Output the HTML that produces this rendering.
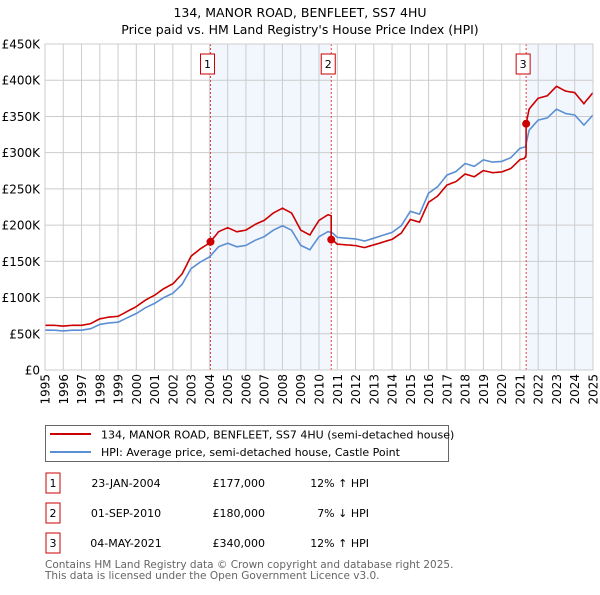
<!DOCTYPE html>
<html><head><meta charset="utf-8"><style>
body{margin:0;background:#fff;width:600px;height:590px;overflow:hidden;font-family:"Liberation Sans","DejaVu Sans",sans-serif}
svg text{font-family:"DejaVu Sans","Liberation Sans",sans-serif}
</style></head><body>
<svg id="chart" width="600" height="590" xmlns="http://www.w3.org/2000/svg">
<text x="300" y="17" text-anchor="middle" font-size="12.5" fill="#000">134, MANOR ROAD, BENFLEET, SS7 4HU</text>
<text x="300" y="34" text-anchor="middle" font-size="12.5" fill="#000">Price paid vs. HM Land Registry's House Price Index (HPI)</text>
<g id="plot"></g>
<g>
<rect x="45.5" y="425.5" width="403" height="36" fill="#fff" stroke="#666"/>
<line x1="50" y1="434" x2="91" y2="434" stroke="#cc0000" stroke-width="2"/>
<text x="101" y="438.5" font-size="11">134, MANOR ROAD, BENFLEET, SS7 4HU (semi-detached house)</text>
<line x1="50" y1="452" x2="91" y2="452" stroke="#5b8fd4" stroke-width="2"/>
<text x="101" y="456" font-size="11">HPI: Average price, semi-detached house, Castle Point</text>
</g>
<g id="table"></g>
<text x="45" y="568" font-size="10.5" fill="#666">Contains HM Land Registry data © Crown copyright and database right 2025.</text>
<text x="45" y="579" font-size="10.5" fill="#666">This data is licensed under the Open Government Licence v3.0.</text>
</svg>
<script>
const hpiYears=[1995,1995.5,1996,1996.5,1997,1997.5,1998,1998.5,1999,1999.5,2000,2000.5,2001,2001.5,2002,2002.5,2003,2003.5,2004,2004.5,2005,2005.5,2006,2006.5,2007,2007.5,2008,2008.5,2009,2009.5,2010,2010.5,2010.75,2011,2011.5,2012,2012.5,2013,2013.5,2014,2014.5,2015,2015.5,2016,2016.5,2017,2017.5,2018,2018.5,2019,2019.5,2020,2020.5,2021,2021.3,2021.5,2022,2022.5,2023,2023.5,2024,2024.5,2025];
const hpiValues=[55,55,54,55,55,57,63,65,66,72,78,86,92,100,106,118,140,149,156,170,175,170,172,179,184,193,199,193,172,166,184,191,189,183,182,181,178,182,186,190,199,219,215,244,253,269,274,285,281,290,287,288,293,306,308,331,345,348,360,354,352,338,352];
const saleYears=[2004.06,2010.67,2021.34];
const salePrices=[177,180,340];
const saleLabels=["1","2","3"];
const saleDates=["23-JAN-2004","01-SEP-2010","04-MAY-2021"];
const salePriceText=["£177,000","£180,000","£340,000"];
const saleDiffText=["12% ↑ HPI","7% ↓ HPI","12% ↑ HPI"];
const yTicks=[0,50,100,150,200,250,300,350,400,450];
const yTickLabels=["£0","£50K","£100K","£150K","£200K","£250K","£300K","£350K","£400K","£450K"];
const xTicks=[1995,1996,1997,1998,1999,2000,2001,2002,2003,2004,2005,2006,2007,2008,2009,2010,2011,2012,2013,2014,2015,2016,2017,2018,2019,2020,2021,2022,2023,2024,2025];

const X0=45,X1=593,Y0=370,Y1=44;
const xs=y=>X0+(y-1995)/30*(X1-X0);
const ys=v=>Y0-v/450*(Y0-Y1);
const NS="http://www.w3.org/2000/svg";
function mk(tag,attrs,parent){const e=document.createElementNS(NS,tag);for(const k in attrs)e.setAttribute(k,attrs[k]);parent.appendChild(e);return e;}
function hpiAt(t){for(let i=0;i<hpiYears.length-1;i++){if(t<=hpiYears[i+1]){const f=(t-hpiYears[i])/(hpiYears[i+1]-hpiYears[i]);return hpiValues[i]+f*(hpiValues[i+1]-hpiValues[i]);}}return hpiValues[hpiValues.length-1];}
const plot=document.getElementById('plot');
for(let i=0;i<saleYears.length;i++){
  if(i===1)continue;
  const end=i===0?saleYears[1]:2025;
  const r=mk('rect',{x:xs(saleYears[i]),y:Y1,width:xs(end)-xs(saleYears[i]),height:Y0-Y1,fill:'#f2f6fd'},plot);
  
  
}
yTicks.forEach((v,i)=>{
  const l=mk('line',{x1:X0,x2:X1,y1:ys(v),y2:ys(v),stroke:'#cccccc','stroke-width':1},plot);
  
  
  const t=mk('text',{x:40,y:ys(v)+4.5,'text-anchor':'end','font-size':12},plot);
  
  
  t.textContent=yTickLabels[i];
});
xTicks.forEach(yr=>{
  const l=mk('line',{x1:xs(yr),x2:xs(yr),y1:Y1,y2:Y0,stroke:'#cccccc','stroke-width':1},plot);
  
  
  const t=mk('text',{x:0,y:0,'text-anchor':'end','font-size':12,transform:`translate(${xs(yr)+4.5},374) rotate(-90)`},plot);
  
  
  t.textContent=yr;
});
saleYears.forEach((s,i)=>{
  const l=mk('line',{x1:xs(s),x2:xs(s),y1:Y1,y2:Y0,stroke:'#e04040','stroke-width':1,'stroke-dasharray':'2,2'},plot);
  
  
  const b=mk('rect',{x:xs(s)-10,y:54,width:14,height:20,fill:'#fff',stroke:'#cc0000','stroke-width':1},plot);
  
  
  const t=mk('text',{x:xs(s)-3,y:68,'text-anchor':'middle','font-size':11},plot);
  
  
  t.textContent=saleLabels[i];
});
let d='';
hpiYears.forEach((yr,i)=>{d+=(i?'L':'M')+xs(yr).toFixed(1)+','+ys(hpiValues[i]).toFixed(1);});
const hp=mk('path',{d:d,fill:'none',stroke:'#5b8fd4','stroke-width':1.6},plot);


let pd='';let first=true;
const steps=[];
for(let t=1995;t<=2025.001;t+=0.125)steps.push(t);
saleYears.forEach(s=>steps.push(s-0.0001,s));
steps.sort((a,b)=>a-b);
steps.forEach(t=>{
  let k=0;for(let i=0;i<saleYears.length;i++)if(t>=saleYears[i])k=i;
  const v=salePrices[k]*hpiAt(t)/hpiAt(saleYears[k]);
  pd+=(first?'M':'L')+xs(t).toFixed(1)+','+ys(v).toFixed(1);first=false;
});
const pp=mk('path',{d:pd,fill:'none',stroke:'#cc0000','stroke-width':1.6},plot);


saleYears.forEach((s,i)=>{
  const c=mk('circle',{cx:xs(s),cy:ys(salePrices[i]),r:4,fill:'#cc0000'},plot);
  
  
});
const ax=mk('rect',{x:X0,y:Y1,width:X1-X0,height:Y0-Y1,fill:'none',stroke:'#cccccc'},plot);


const tb=document.getElementById('table');
const rowY=[483,513,543];
saleYears.forEach((s,i)=>{
  const b=mk('rect',{x:46,y:rowY[i]-10,width:14,height:20,fill:'#fff',stroke:'#cc0000'},tb);
  
  
  const n=mk('text',{x:53,y:rowY[i]+4,'text-anchor':'middle','font-size':11},tb);
  
  
  n.textContent=saleLabels[i];
  const dt=mk('text',{x:126,y:rowY[i]+4,'text-anchor':'middle','font-size':11},tb);
  
  
  dt.textContent=saleDates[i];
  const p=mk('text',{x:265,y:rowY[i]+4,'text-anchor':'end','font-size':11},tb);
  
  
  p.textContent=salePriceText[i];
  const h=mk('text',{x:369,y:rowY[i]+4,'text-anchor':'end','font-size':11},tb);
  
  
  h.textContent=saleDiffText[i];
});
</script>
</body></html>
